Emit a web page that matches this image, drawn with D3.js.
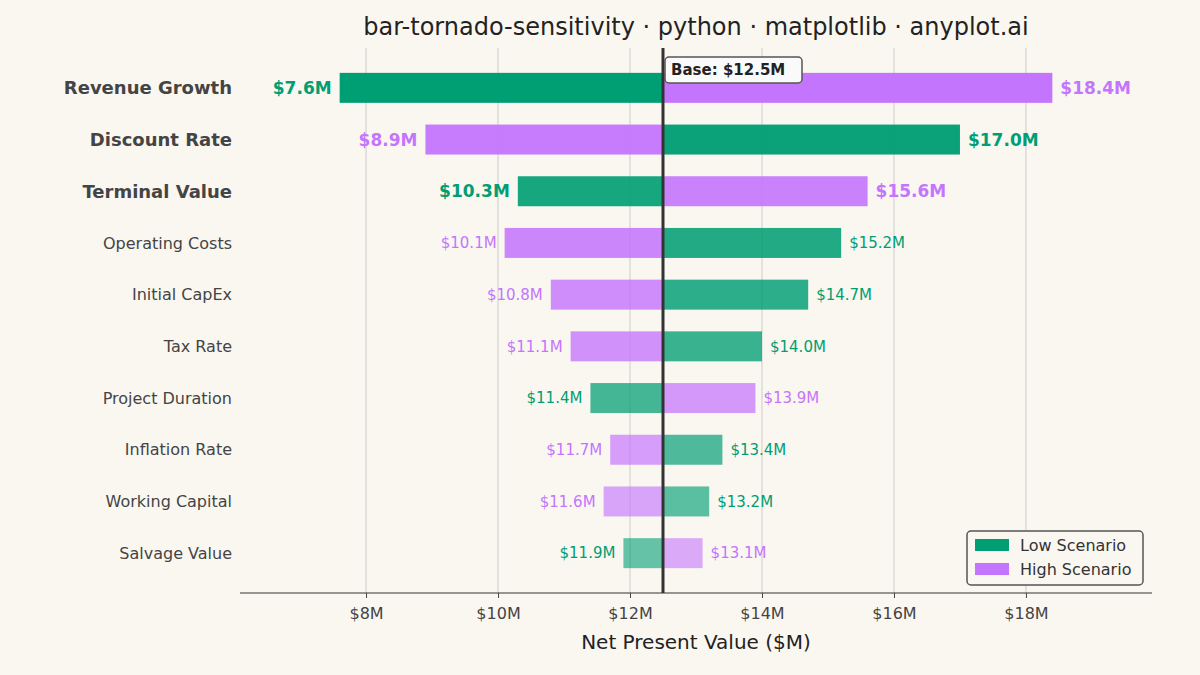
<!DOCTYPE html>
<html><head><meta charset="utf-8">
<script src="https://cdn.jsdelivr.net/npm/d3@7"></script>
<style>body{margin:0;background:#FAF7F1;}svg{font-family:"DejaVu Sans",sans-serif;}</style>
</head><body><svg id="c" width="1200" height="675"></svg>
<script>
const factors=["Revenue Growth","Discount Rate","Terminal Value","Operating Costs","Initial CapEx","Tax Rate","Project Duration","Inflation Rate","Working Capital","Salvage Value"];
const lowValues=[7.6,17.0,10.3,15.2,14.7,14.0,11.4,13.4,13.2,11.9];
const highValues=[18.4,8.9,15.6,10.1,10.8,11.1,13.9,11.7,11.6,13.1];
const baseValue=12.5;
const ticks=[8,10,12,14,16,18];
const GREEN="#009E73",PURPLE="#C475FD";
const svg=d3.select("#c");
svg.append("rect").attr("width",1200).attr("height",675).attr("fill","#FAF7F1");
const x=d3.scaleLinear().domain([6.09,19.91]).range([240,1152]);
const y=d3.scaleBand().domain(factors).range([62,579]).paddingInner(0.42).paddingOuter(0.21);
svg.append("g").selectAll("line").data(ticks).join("line").attr("x1",d=>x(d)).attr("x2",d=>x(d)).attr("y1",48).attr("y2",593).attr("stroke","#ccc").attr("stroke-width",1);
factors.forEach((f,i)=>{
  const op=1-i*0.045;
  const big=i<3;
  [[lowValues[i],GREEN],[highValues[i],PURPLE]].forEach(([v,c])=>{
    const x0=Math.min(v,baseValue),x1=Math.max(v,baseValue);
    svg.append("rect").attr("x",x(x0)).attr("width",x(x1)-x(x0)).attr("y",y(f)).attr("height",y.bandwidth()).attr("fill",c).attr("opacity",op);
    const left=v<baseValue;
    svg.append("text").attr("x",left?x(v)-8:x(v)+8).attr("y",y(f)+y.bandwidth()/2).attr("dy","0.35em")
      .attr("text-anchor",left?"end":"start").attr("fill",c).attr("font-size",big?17:15).attr("font-weight",big?"bold":"normal")
      .text("$"+v.toFixed(1)+"M");
  });
  svg.append("text").attr("x",232).attr("y",y(f)+y.bandwidth()/2).attr("dy","0.35em").attr("text-anchor","end")
    .attr("fill","#444").attr("font-size",big?18:16).attr("font-weight",big?"bold":"normal").text(f);
});
svg.append("line").attr("x1",x(baseValue)).attr("x2",x(baseValue)).attr("y1",48).attr("y2",593).attr("stroke","#333").attr("stroke-width",3);
svg.append("rect").attr("x",x(baseValue)+2).attr("y",57).attr("width",137).attr("height",26).attr("rx",4).attr("fill","#fafafa").attr("stroke","#555").attr("stroke-width",1.5);
svg.append("text").attr("x",x(baseValue)+8).attr("y",70).attr("dy","0.35em").attr("font-size",15).attr("font-weight","bold").attr("fill","#222").text("Base: $"+baseValue.toFixed(1)+"M");
const ax=svg.append("g").attr("transform","translate(0,593)").call(d3.axisBottom(x).tickValues(ticks).tickFormat(d=>"$"+d+"M").tickSize(5));
ax.select(".domain").attr("stroke","#333").attr("d","M240,0H1152");
ax.selectAll("text").attr("font-size",16).attr("fill","#444").attr("dy","1.1em").attr("font-family","DejaVu Sans");
ax.selectAll(".tick line").attr("stroke","#444");
svg.append("text").attr("x",696).attr("y",649).attr("text-anchor","middle").attr("font-size",20).attr("fill","#222").text("Net Present Value ($M)");
svg.append("text").attr("x",696).attr("y",35).attr("text-anchor","middle").attr("font-size",24).attr("fill","#222").text("bar-tornado-sensitivity · python · matplotlib · anyplot.ai");
const lg=svg.append("g");
lg.append("rect").attr("x",967).attr("y",531).attr("width",176).attr("height",54).attr("rx",4).attr("fill","#FAF7F1").attr("stroke","#555").attr("stroke-width",1.5);
[["Low Scenario",GREEN],["High Scenario",PURPLE]].forEach(([t,c],k)=>{
  lg.append("rect").attr("x",975).attr("y",539+k*24).attr("width",34).attr("height",12).attr("fill",c);
  lg.append("text").attr("x",1020).attr("y",545+k*24).attr("dy","0.35em").attr("font-size",16).attr("fill","#333").text(t);
});
</script></body></html>
